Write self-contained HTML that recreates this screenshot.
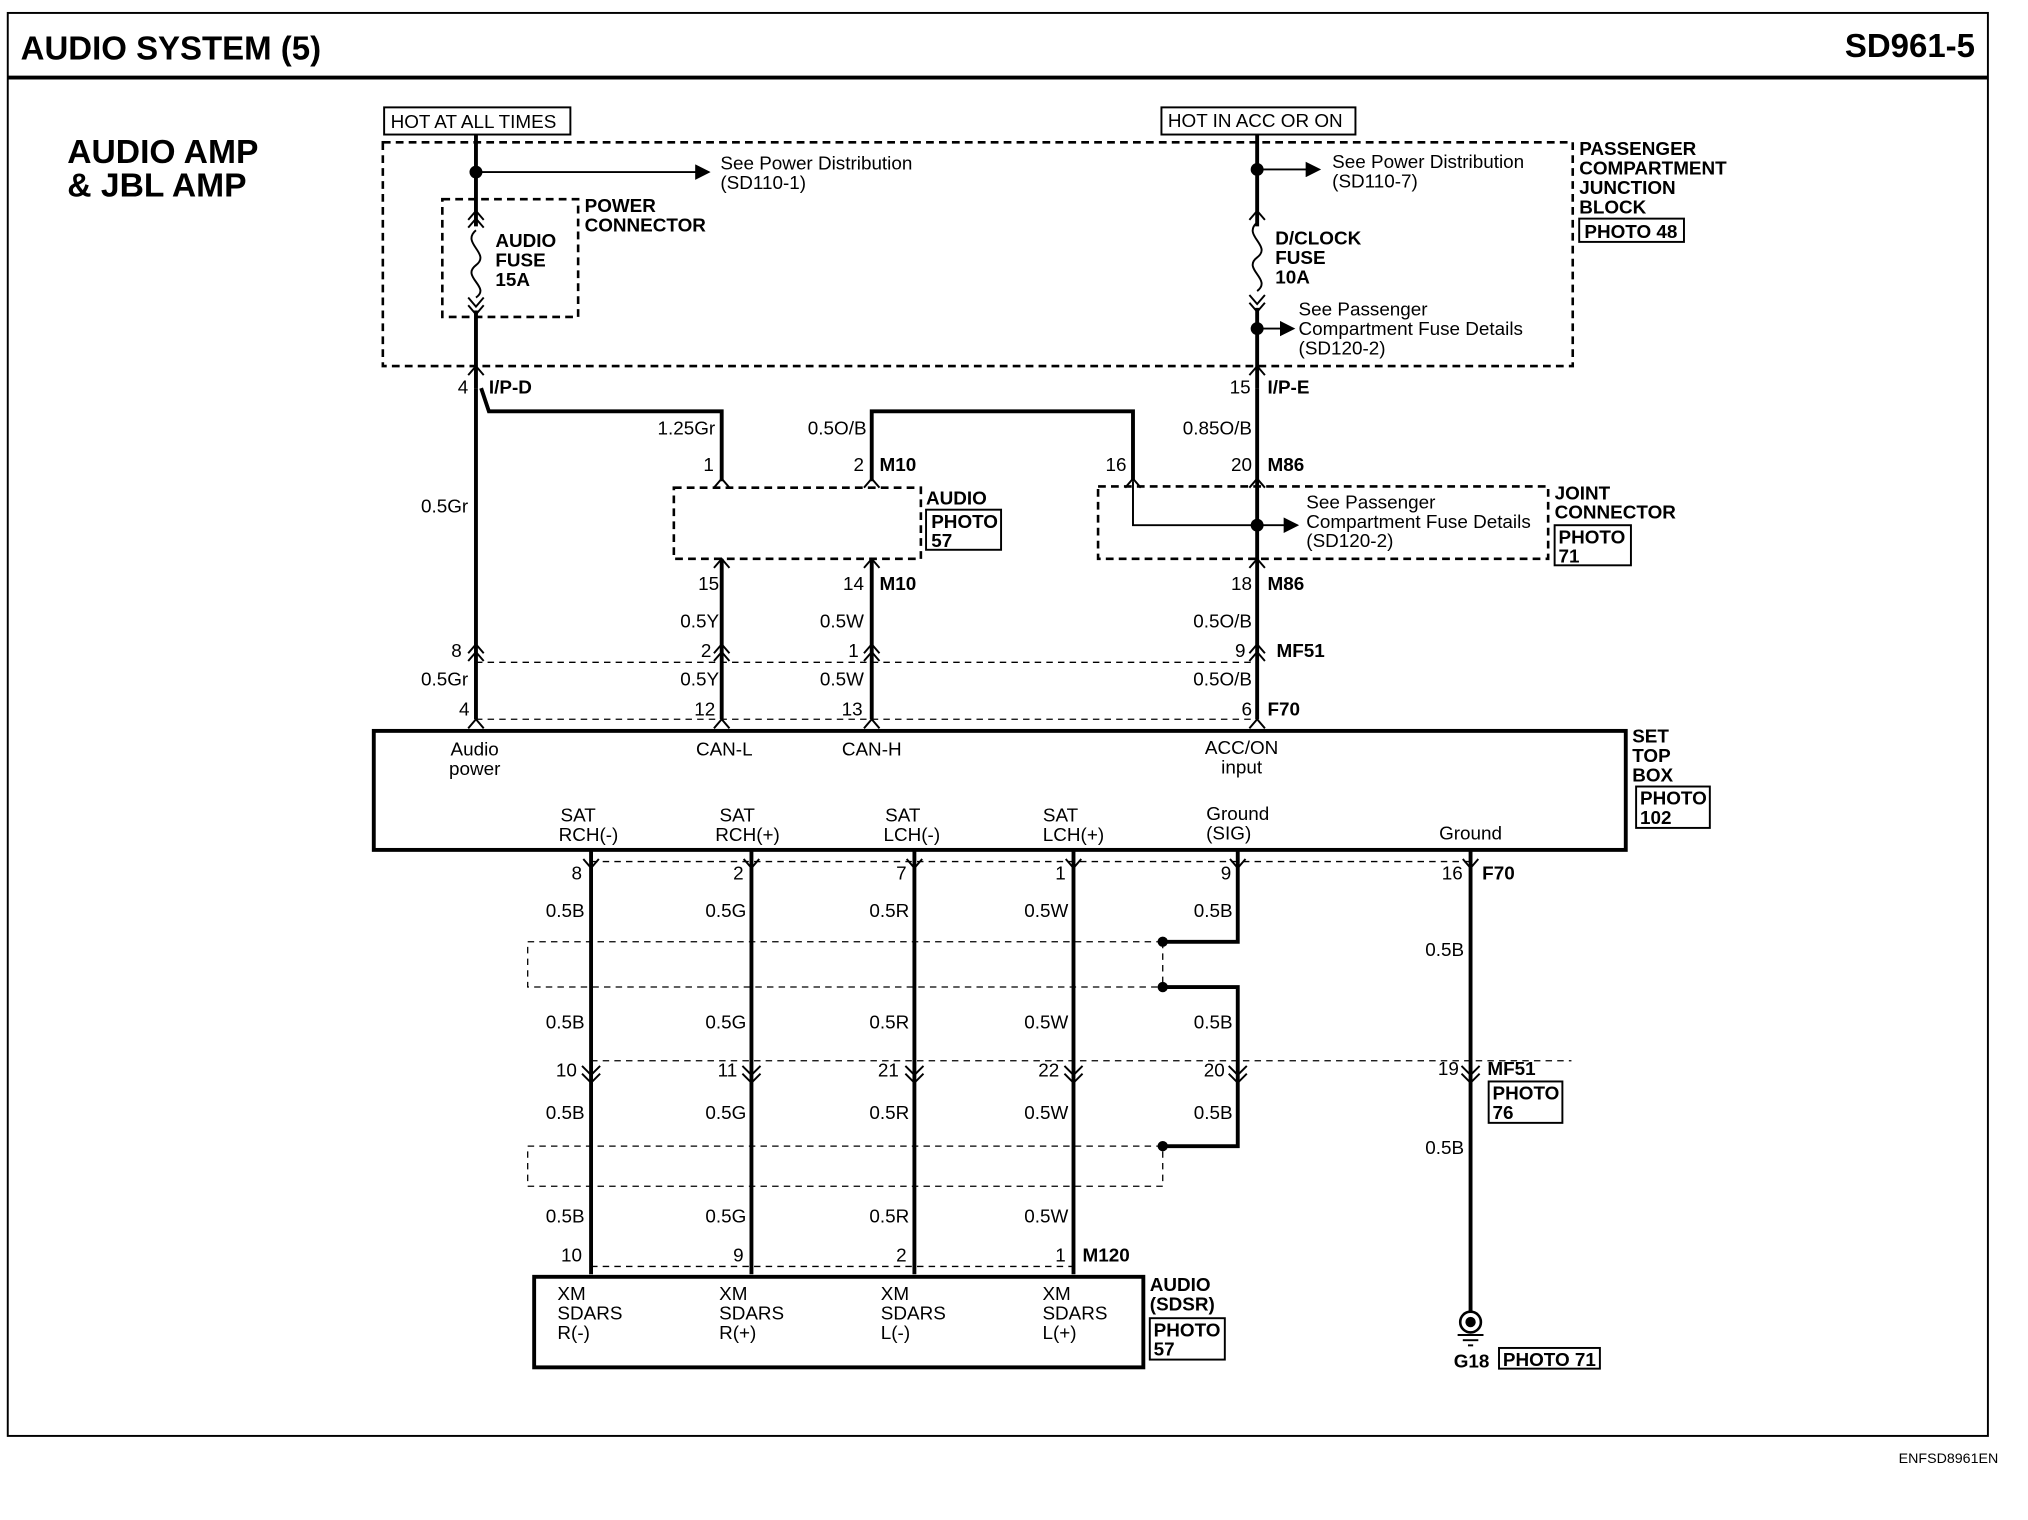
<!DOCTYPE html>
<html><head><meta charset="utf-8"><style>
html,body{margin:0;padding:0;background:#fff;}
svg{display:block;}
text{font-family:"Liberation Sans",Arial,sans-serif;font-size:14.6px;fill:#000;}
.b{font-weight:bold;}
.w{stroke:#000;stroke-width:3;fill:none;}
.t{stroke:#000;stroke-width:1.5;fill:none;}
.d{stroke:#000;stroke-width:2;fill:none;stroke-dasharray:6,4;}
.dl{stroke:#000;stroke-width:1;fill:none;stroke-dasharray:5,4;}
.m{text-anchor:middle;}
.e{text-anchor:end;}
</style></head><body>
<svg width="2028" height="1520" viewBox="0 0 1568 1175" preserveAspectRatio="none" xmlns="http://www.w3.org/2000/svg">
<defs>
<marker id="ar" markerWidth="8" markerHeight="8" refX="7" refY="4" orient="auto"><path d="M0,0 L8,4 L0,8 z" fill="#000"/></marker>
</defs>
<rect x="6" y="10" width="1531" height="1100" fill="none" stroke="#000" stroke-width="1.5"/>
<line x1="6" y1="60" x2="1537" y2="60" stroke="#000" stroke-width="3"/>
<text x="16" y="46" class="b" style="font-size:25.5px">AUDIO SYSTEM (5)</text>
<text x="1527" y="44" class="b e" style="font-size:25.5px">SD961-5</text>
<text x="1545" y="1131" class="e" style="font-size:11px">ENFSD8961EN</text>
<text x="52" y="126" class="b" style="font-size:26px">AUDIO AMP</text>
<text x="52" y="152" class="b" style="font-size:26px">&amp; JBL AMP</text>

<rect x="297" y="83" width="144" height="21" class="t"/><text x="302" y="99">HOT AT ALL TIMES</text>
<rect x="898" y="83" width="150" height="21" class="t"/><text x="903" y="98">HOT IN ACC OR ON</text>

<rect x="296" y="110" width="920" height="173" class="d"/>
<text x="1221" y="120" class="b">PASSENGER</text><text x="1221" y="135" class="b">COMPARTMENT</text>
<text x="1221" y="150" class="b">JUNCTION</text><text x="1221" y="165" class="b">BLOCK</text>
<rect x="1221" y="169" width="81" height="18" class="t"/><text x="1225" y="184" class="b">PHOTO 48</text>

<line x1="368" y1="104" x2="368" y2="175" class="w"/>
<circle cx="368" cy="133" r="5"/>
<line x1="368" y1="133" x2="548" y2="133" class="t" marker-end="url(#ar)"/>
<text x="557" y="131">See Power Distribution</text><text x="557" y="146">(SD110-1)</text>
<rect x="342" y="154" width="105" height="91" class="d"/>
<path d="M362,170 L368,163 L374,170 M362,176 L368,169 L374,176" class="t"/>
<path d="M368,178 C356,188 380,196 368,205 C356,214 380,222 368,230" class="t"/>
<path d="M362,230 L368,237 L374,230 M362,236 L368,243 L374,236" class="t"/>
<line x1="368" y1="240" x2="368" y2="300" class="w"/>
<text x="383" y="191" class="b">AUDIO</text><text x="383" y="206" class="b">FUSE</text><text x="383" y="221" class="b">15A</text>
<text x="452" y="164" class="b">POWER</text><text x="452" y="179" class="b">CONNECTOR</text>

<line x1="972" y1="104" x2="972" y2="175" class="w"/>
<circle cx="972" cy="131" r="5"/>
<line x1="972" y1="131" x2="1020" y2="131" class="t" marker-end="url(#ar)"/>
<text x="1030" y="130">See Power Distribution</text><text x="1030" y="145">(SD110-7)</text>
<path d="M966,170 L972,163 L978,170" class="t"/>
<path d="M972,172 C960,182 984,190 972,199 C960,208 984,216 972,225" class="t"/>
<path d="M966,228 L972,235 L978,228 M966,234 L972,241 L978,234" class="t"/>
<line x1="972" y1="238" x2="972" y2="300" class="w"/>
<text x="986" y="189" class="b">D/CLOCK</text><text x="986" y="204" class="b">FUSE</text><text x="986" y="219" class="b">10A</text>
<circle cx="972" cy="254" r="5"/>
<line x1="972" y1="254" x2="1000" y2="254" class="t" marker-end="url(#ar)"/>
<text x="1004" y="244">See Passenger</text><text x="1004" y="259">Compartment Fuse Details</text><text x="1004" y="274">(SD120-2)</text>

<path d="M362,290 L368,283 L374,290" class="t"/><path d="M966,290 L972,283 L978,290" class="t"/>
<text x="362" y="304" class="e">4</text><text x="378" y="304" class="b">I/P-D</text>
<text x="967" y="304" class="e">15</text><text x="980" y="304" class="b">I/P-E</text>

<line x1="368" y1="300" x2="368" y2="556" class="w"/>
<path d="M372,300 L378,318 L558,318 L558,372" class="w"/>
<path d="M674,372 L674,318 L876,318 L876,372" class="w"/>
<line x1="972" y1="300" x2="972" y2="556" class="w"/>
<text x="553" y="336" class="e">1.25Gr</text>
<text x="670" y="336" class="e">0.5O/B</text>
<text x="968" y="336" class="e">0.85O/B</text>
<text x="552" y="364" class="e">1</text><text x="668" y="364" class="e">2</text><text x="680" y="364" class="b">M10</text>
<text x="871" y="364" class="e">16</text><text x="968" y="364" class="e">20</text><text x="980" y="364" class="b">M86</text>
<text x="362" y="396" class="e">0.5Gr</text>

<rect x="521" y="377" width="191" height="55" class="d"/>
<path d="M552,377 L558,370 L564,377 M668,377 L674,370 L680,377 M552,439 L558,432 L564,439 M668,439 L674,432 L680,439" class="t"/>
<text x="716" y="390" class="b">AUDIO</text>
<rect x="716" y="394" width="58" height="31" class="t"/><text x="720" y="408" class="b">PHOTO</text><text x="720" y="423" class="b">57</text>
<line x1="558" y1="432" x2="558" y2="556" class="w"/>
<line x1="674" y1="432" x2="674" y2="556" class="w"/>

<rect x="849" y="376" width="348" height="56" class="d"/>
<path d="M870,377 L876,370 L882,377 M966,377 L972,370 L978,377 M966,439 L972,432 L978,439" class="t"/>
<path d="M876,372 L876,406 L972,406" class="t"/>
<circle cx="972" cy="406" r="5"/>
<line x1="972" y1="406" x2="1003" y2="406" class="t" marker-end="url(#ar)"/>
<text x="1010" y="393">See Passenger</text><text x="1010" y="408">Compartment Fuse Details</text><text x="1010" y="423">(SD120-2)</text>
<text x="1202" y="386" class="b">JOINT</text><text x="1202" y="401" class="b">CONNECTOR</text>
<rect x="1202" y="406" width="59" height="31" class="t"/><text x="1205" y="420" class="b">PHOTO</text><text x="1205" y="435" class="b">71</text>

<text x="556" y="456" class="e">15</text><text x="668" y="456" class="e">14</text><text x="680" y="456" class="b">M10</text>
<text x="968" y="456" class="e">18</text><text x="980" y="456" class="b">M86</text>
<text x="556" y="485" class="e">0.5Y</text><text x="668" y="485" class="e">0.5W</text><text x="968" y="485" class="e">0.5O/B</text>

<line x1="368" y1="512" x2="972" y2="512" class="dl"/>
<path d="M362,505 L368,498 L374,505 M362,511 L368,504 L374,511" class="t"/>
<path d="M552,505 L558,498 L564,505 M552,511 L558,504 L564,511" class="t"/>
<path d="M668,505 L674,498 L680,505 M668,511 L674,504 L680,511" class="t"/>
<path d="M966,505 L972,498 L978,505 M966,511 L972,504 L978,511" class="t"/>
<text x="357" y="508" class="e">8</text><text x="550" y="508" class="e">2</text><text x="664" y="508" class="e">1</text><text x="963" y="508" class="e">9</text><text x="987" y="508" class="b">MF51</text>
<text x="362" y="530" class="e">0.5Gr</text><text x="556" y="530" class="e">0.5Y</text><text x="668" y="530" class="e">0.5W</text><text x="968" y="530" class="e">0.5O/B</text>

<line x1="368" y1="556" x2="972" y2="556" class="dl"/>
<path d="M362,563 L368,556 L374,563 M552,563 L558,556 L564,563 M668,563 L674,556 L680,563 M966,563 L972,556 L978,563" class="t"/>
<text x="363" y="553" class="e">4</text><text x="553" y="553" class="e">12</text><text x="667" y="553" class="e">13</text><text x="968" y="553" class="e">6</text><text x="980" y="553" class="b">F70</text>

<rect x="289" y="565" width="968" height="92" fill="none" stroke="#000" stroke-width="3"/>
<text x="367" y="584" class="m">Audio</text><text x="367" y="599" class="m">power</text>
<text x="560" y="584" class="m">CAN-L</text><text x="674" y="584" class="m">CAN-H</text>
<text x="960" y="583" class="m">ACC/ON</text><text x="960" y="598" class="m">input</text>
<text x="447" y="635" class="m">SAT</text><text x="455" y="650" class="m">RCH(-)</text>
<text x="570" y="635" class="m">SAT</text><text x="578" y="650" class="m">RCH(+)</text>
<text x="698" y="635" class="m">SAT</text><text x="705" y="650" class="m">LCH(-)</text>
<text x="820" y="635" class="m">SAT</text><text x="830" y="650" class="m">LCH(+)</text>
<text x="957" y="634" class="m">Ground</text><text x="950" y="649" class="m">(SIG)</text>
<text x="1137" y="649" class="m">Ground</text>
<text x="1262" y="574" class="b">SET</text><text x="1262" y="589" class="b">TOP</text><text x="1262" y="604" class="b">BOX</text>
<rect x="1265" y="608" width="57" height="32" class="t"/><text x="1268" y="622" class="b">PHOTO</text><text x="1268" y="637" class="b">102</text>

<line x1="457" y1="657" x2="457" y2="985" class="w"/>
<line x1="581" y1="657" x2="581" y2="985" class="w"/>
<line x1="707" y1="657" x2="707" y2="985" class="w"/>
<line x1="830" y1="657" x2="830" y2="985" class="w"/>
<path d="M957,657 L957,728 L899,728" class="w"/>
<path d="M899,763 L957,763 L957,886 L899,886" class="w"/>
<line x1="1137" y1="657" x2="1137" y2="1015" class="w"/>
<circle cx="899" cy="728" r="4"/><circle cx="899" cy="763" r="4"/><circle cx="899" cy="886" r="4"/>
<path d="M899,728 L408,728 L408,763 L899,763 M899,728 L899,763" class="dl"/>
<path d="M899,886 L408,886 L408,917 L899,917 L899,886" class="dl"/>

<line x1="457" y1="666" x2="1137" y2="666" class="dl"/>
<path d="M451,664 L457,671 L463,664 M575,664 L581,671 L587,664 M701,664 L707,671 L713,664 M824,664 L830,671 L836,664 M951,664 L957,671 L963,664 M1131,664 L1137,671 L1143,664" class="t"/>
<text x="450" y="680" class="e">8</text><text x="575" y="680" class="e">2</text><text x="701" y="680" class="e">7</text><text x="824" y="680" class="e">1</text><text x="952" y="680" class="e">9</text><text x="1131" y="680" class="e">16</text><text x="1146" y="680" class="b">F70</text>
<text x="452" y="709" class="e">0.5B</text><text x="577" y="709" class="e">0.5G</text><text x="703" y="709" class="e">0.5R</text><text x="826" y="709" class="e">0.5W</text><text x="953" y="709" class="e">0.5B</text><text x="1132" y="739" class="e">0.5B</text>
<text x="452" y="795" class="e">0.5B</text><text x="577" y="795" class="e">0.5G</text><text x="703" y="795" class="e">0.5R</text><text x="826" y="795" class="e">0.5W</text><text x="953" y="795" class="e">0.5B</text>
<text x="452" y="865" class="e">0.5B</text><text x="577" y="865" class="e">0.5G</text><text x="703" y="865" class="e">0.5R</text><text x="826" y="865" class="e">0.5W</text><text x="953" y="865" class="e">0.5B</text><text x="1132" y="892" class="e">0.5B</text>
<text x="452" y="945" class="e">0.5B</text><text x="577" y="945" class="e">0.5G</text><text x="703" y="945" class="e">0.5R</text><text x="826" y="945" class="e">0.5W</text>

<line x1="457" y1="820" x2="1215" y2="820" class="dl"/>
<path d="M450,824 L457,831 L464,824 M450,830 L457,837 L464,830 M574,824 L581,831 L588,824 M574,830 L581,837 L588,830 M700,824 L707,831 L714,824 M700,830 L707,837 L714,830 M823,824 L830,831 L837,824 M823,830 L830,837 L837,830 M950,824 L957,831 L964,824 M950,830 L957,837 L964,830 M1130,824 L1137,831 L1144,824 M1130,830 L1137,837 L1144,830" class="t"/>
<text x="446" y="832" class="e">10</text><text x="570" y="832" class="e">11</text><text x="695" y="832" class="e">21</text><text x="819" y="832" class="e">22</text><text x="947" y="832" class="e">20</text><text x="1128" y="831" class="e">19</text><text x="1150" y="831" class="b">MF51</text>
<rect x="1151" y="836" width="57" height="32" class="t"/><text x="1154" y="850" class="b">PHOTO</text><text x="1154" y="865" class="b">76</text>

<line x1="457" y1="979" x2="830" y2="979" class="dl"/>
<text x="450" y="975" class="e">10</text><text x="575" y="975" class="e">9</text><text x="701" y="975" class="e">2</text><text x="824" y="975" class="e">1</text><text x="837" y="975" class="b">M120</text>
<rect x="413" y="987" width="471" height="70" fill="none" stroke="#000" stroke-width="3"/>
<text x="431" y="1005">XM</text><text x="431" y="1020">SDARS</text><text x="431" y="1035">R(-)</text>
<text x="556" y="1005">XM</text><text x="556" y="1020">SDARS</text><text x="556" y="1035">R(+)</text>
<text x="681" y="1005">XM</text><text x="681" y="1020">SDARS</text><text x="681" y="1035">L(-)</text>
<text x="806" y="1005">XM</text><text x="806" y="1020">SDARS</text><text x="806" y="1035">L(+)</text>
<text x="889" y="998" class="b">AUDIO</text><text x="889" y="1013" class="b">(SDSR)</text>
<rect x="889" y="1019" width="58" height="32" class="t"/><text x="892" y="1033" class="b">PHOTO</text><text x="892" y="1048" class="b">57</text>

<circle cx="1137" cy="1022" r="8" fill="none" stroke="#000" stroke-width="2"/>
<circle cx="1137" cy="1022" r="4"/>
<line x1="1127" y1="1032" x2="1147" y2="1032" class="t"/><line x1="1131" y1="1036" x2="1143" y2="1036" class="t"/><line x1="1135" y1="1040" x2="1139" y2="1040" class="t"/>
<text x="1124" y="1057" class="b">G18</text>
<rect x="1159" y="1042" width="78" height="16" class="t"/><text x="1162" y="1056" class="b">PHOTO 71</text>
</svg>
</body></html>
